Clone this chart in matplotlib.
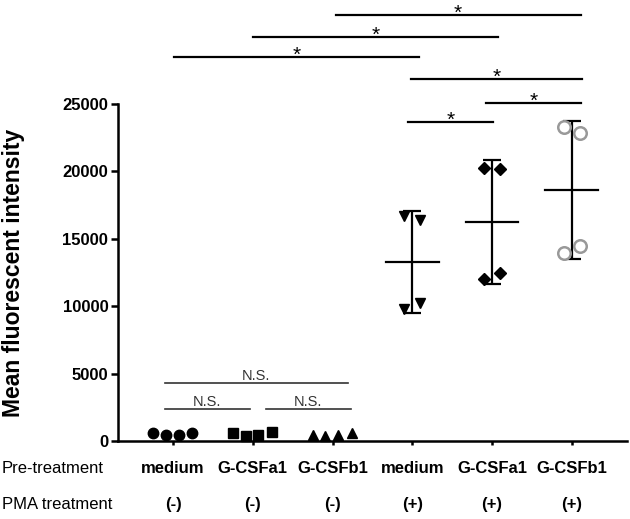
import numpy as np
import matplotlib
matplotlib.use("Agg")
import matplotlib.pyplot as plt
import matplotlib.transforms as mtransforms

plt.rcParams['font.family'] = ['Liberation Sans', 'DejaVu Sans']

pre_labels = ["medium", "G-CSFa1", "G-CSFb1", "medium", "G-CSFa1", "G-CSFb1"]
pma_labels = ["(-)", "(-)", "(-)", "(+)", "(+)", "(+)"]

medium_neg = [560, 420, 450, 580]
gcsfa1_neg = [600, 380, 420, 650]
gcsfb1_neg = [480, 380, 420, 620]
medium_pos = [16690, 9790, 16390, 10240]
gcsfa1_pos = [20250, 12020, 20180, 12460]
gcsfb1_pos = [23300, 13950, 22850, 14470]

# significance brackets: (x start, x end, height)
star_bars = [(2.04, 5.11, 31600), (1.0, 4.08, 29970), (0.01, 3.09, 28490),
             (2.98, 5.13, 26850), (3.93, 5.11, 25070), (2.95, 4.01, 23660)]
ns_bars = [(-0.1, 2.19, 4300), (-0.1, 0.96, 2370), (1.16, 2.23, 2370)]

yticks = [0, 5000, 10000, 15000, 20000, 25000]

low_jit = [-0.25, -0.09, 0.07, 0.24]
high_jit = [-0.1, -0.1, 0.1, 0.1]

fig = plt.figure(figsize=(6.3, 5.19), dpi=100)
ax = fig.add_axes([0.1873, 0.1503, 0.8077, 0.6493])

low = [(medium_neg, 'o'), (gcsfa1_neg, 's'), (gcsfb1_neg, '^')]
for i, (vals, m) in enumerate(low):
    ax.plot(i + np.array(low_jit), vals, m, color='black', ms=7.5,
            clip_on=False, zorder=3)

high = [medium_pos, gcsfa1_pos, gcsfb1_pos]
for j, vals in enumerate(high):
    x = 3 + j
    v = np.array(vals, dtype=float)
    mean = v.mean()
    sd = v.std(ddof=1)
    ax.plot([x - 0.33, x + 0.33], [mean, mean], color='black', lw=1.6)
    ax.errorbar([x], [mean], yerr=[sd], fmt='none', ecolor='black',
                elinewidth=1.6, capsize=6.5, capthick=1.6)
    xs = x + np.array(high_jit)
    if j == 0:
        ax.plot(xs, v, 'v', color='black', ms=7.5, zorder=3)
    elif j == 1:
        ax.plot(xs, v, 'D', color='black', ms=6.5, zorder=3)
    else:
        ax.plot(xs, v, 'o', mfc='white', mec='#999999', mew=1.8, ms=9,
                zorder=3)

for x1, x2, h in star_bars:
    ax.plot([x1, x2], [h, h], color='black', lw=1.6, clip_on=False)
    ax.text((x1 + x2) / 2, h - 250, "*", ha='center', va='baseline',
            fontsize=15, clip_on=False)

for x1, x2, h in ns_bars:
    ax.plot([x1, x2], [h, h], color='#333333', lw=1.2, clip_on=False)
    ax.text((x1 + x2) / 2, h + 20, "N.S.", ha='center', va='bottom',
            fontsize=10.5, color='#333333')

ax.set_xlim(-0.69, 5.69)
ax.set_ylim(0, 25000)
ax.set_yticks(yticks)
ax.set_yticklabels([str(t) for t in yticks], fontsize=12, fontweight='bold')
ax.set_xticks(range(6))
ax.set_xticklabels([])
ax.tick_params(axis='y', length=5, width=1.8, pad=2)
ax.tick_params(axis='x', length=3, width=1.8)
for s in ['top', 'right']:
    ax.spines[s].set_visible(False)
for s in ['left', 'bottom']:
    ax.spines[s].set_linewidth(1.8)
ax.set_ylabel("Mean fluorescent intensity", fontsize=16.5, fontweight='bold')
ax.yaxis.set_label_coords(-0.183, 0.5)

trans = mtransforms.blended_transform_factory(ax.transData, fig.transFigure)
for i in range(6):
    ax.text(i, 0.098, pre_labels[i], transform=trans, ha='center',
            va='center', fontsize=12, fontweight='bold')
    ax.text(i, 0.027, pma_labels[i], transform=trans, ha='center',
            va='center', fontsize=12, fontweight='bold')
fig.text(0.003, 0.098, "Pre-treatment", ha='left', va='center', fontsize=12)
fig.text(0.003, 0.027, "PMA treatment", ha='left', va='center', fontsize=12)

fig.savefig("out.png", dpi=100)
